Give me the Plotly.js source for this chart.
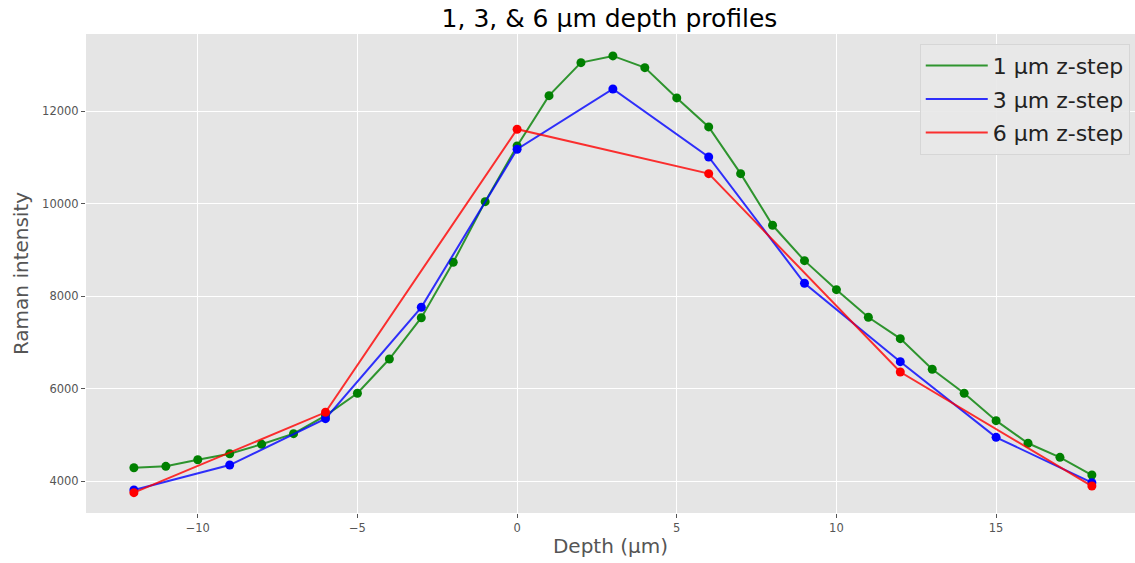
<!DOCTYPE html>
<html>
<head>
<meta charset="utf-8">
<script src="https://cdn.plot.ly/plotly-3.0.1.min.js"></script>
<style>html,body{margin:0;padding:0;background:#fff;}#chart{width:1135px;height:563px;}</style>
</head>
<body>
<div id="chart"></div>
<script>
// Data
const depth1 = [-12,-11,-10,-9,-8,-7,-6,-5,-4,-3,-2,-1,0,1,2,3,4,5,6,7,8,9,10,11,12,13,14,15,16,17,18];
const intensity1 = [4294,4324,4467,4597,4800,5030,5420,5903,6644,7537,8735,10046,11250,12337,13051,13196,12943,12288,11661,10651,9535,8770,8143,7546,7084,6422,5903,5311,4822,4519,4136];
const depth3 = [-12,-9,-6,-3,0,3,6,9,12,15,18];
const intensity3 = [3812,4352,5354,7762,11178,12482,11012,8281,6586,4951,3970];
const depth6 = [-12,-6,0,6,12,18];
const intensity6 = [3754,5492,11611,10651,6363,3898];
const seriesNames = ['1 µm z-step','3 µm z-step','6 µm z-step'];
const xTicks = [-10,-5,0,5,10,15];
const yTicks = [4000,6000,8000,10000,12000];

const series = [
  {x: depth1, y: intensity1, name: seriesNames[0], line: 'rgba(0,128,0,0.8)', mark: '#008000'},
  {x: depth3, y: intensity3, name: seriesNames[1], line: 'rgba(0,0,255,0.8)', mark: '#0000ff'},
  {x: depth6, y: intensity6, name: seriesNames[2], line: 'rgba(255,0,0,0.8)', mark: '#ff0000'}
];
const traces = [];
series.forEach((s, i) => {
  traces.push({x: s.x, y: s.y, type: 'scatter', mode: 'lines', name: s.name,
    legendgroup: 'g' + i, line: {color: s.line, width: 2}, hoverinfo: 'x+y'});
  traces.push({x: s.x, y: s.y, type: 'scatter', mode: 'markers', showlegend: false,
    legendgroup: 'g' + i, marker: {color: s.mark, size: 9}, hoverinfo: 'x+y'});
});

const axisCommon = {
  showgrid: true, gridcolor: '#ffffff', gridwidth: 1, zeroline: false,
  ticks: 'outside', ticklen: 4, tickcolor: '#555555', tickwidth: 1,
  tickfont: {family: 'DejaVu Sans', size: 11.5, color: '#555555'},
  showline: false
};

const layout = {
  width: 1135, height: 563,
  margin: {l: 86, r: 0, t: 34, b: 50},
  paper_bgcolor: '#ffffff', plot_bgcolor: '#e5e5e5',
  font: {family: 'DejaVu Sans', color: '#555555'},
  title: {text: '1, 3, & 6 µm depth profiles', font: {family: 'DejaVu Sans', size: 25, color: '#000000'},
    x: 0.537, xanchor: 'center', y: 0.968, yanchor: 'middle'},
  xaxis: Object.assign({}, axisCommon, {
    range: [-13.5, 19.35], tickvals: xTicks, ticktext: xTicks.map(v => v < 0 ? '\u2212' + Math.abs(v) : String(v)),
    title: {text: 'Depth (µm)', font: {family: 'DejaVu Sans', size: 20, color: '#555555'}, standoff: 5}
  }),
  yaxis: Object.assign({}, axisCommon, {
    range: [3315, 13670], tickvals: yTicks, ticktext: yTicks.map(String),
    title: {text: 'Raman intensity', font: {family: 'DejaVu Sans', size: 20, color: '#555555'}, standoff: 8}
  }),
  showlegend: true,
  legend: {x: 0.995, xanchor: 'right', y: 0.98, yanchor: 'top',
    bgcolor: 'rgba(232,232,232,0.9)', bordercolor: '#d6d6d6', borderwidth: 1,
    font: {family: 'DejaVu Sans', size: 22, color: '#222222'},
    itemwidth: 62, traceorder: 'grouped', tracegroupgap: 2}
};

Plotly.newPlot('chart', traces, layout, {displayModeBar: false, staticPlot: true});
</script>
</body>
</html>
